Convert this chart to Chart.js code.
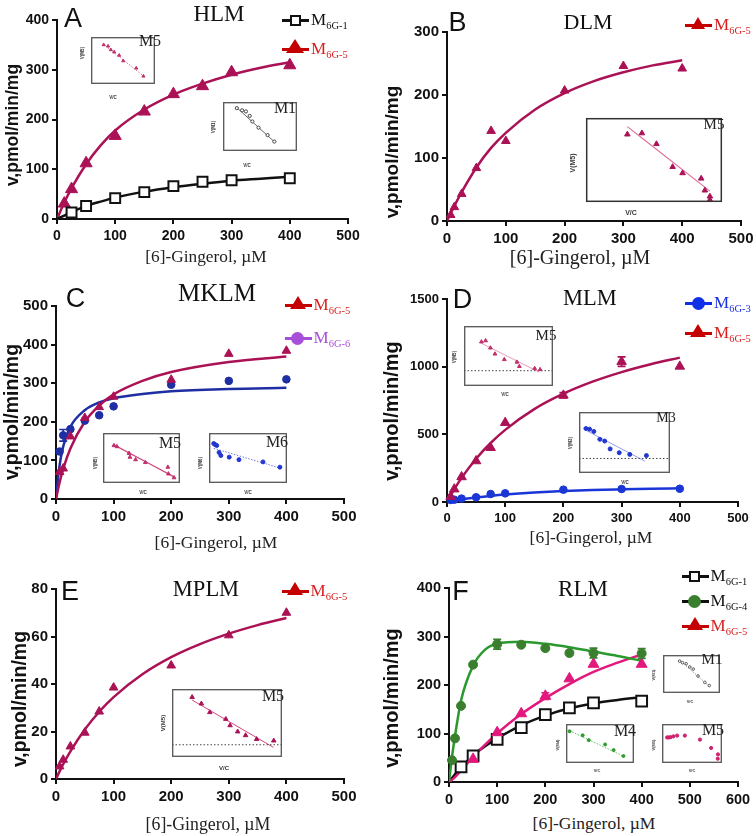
<!DOCTYPE html>
<html>
<head>
<meta charset="utf-8">
<script src="https://cdn.jsdelivr.net/npm/chart.js@4.4.1/dist/chart.umd.min.js"></script>
<style>
  body { margin: 0; width: 756px; height: 836px; position: relative; background: #fff; overflow: hidden; }
  canvas { position: absolute; }
  canvas.inset { background: #fff; }
  .t { position: absolute; transform: translate(-50%, -50%); white-space: nowrap; line-height: 1; }
  .serif { font-family: "Liberation Serif", "Times New Roman", serif; }
  .sans { font-family: "Liberation Sans", Arial, sans-serif; }
  .ytitle { font-weight: bold; transform: translate(-50%, -50%) rotate(-90deg); }
  .leg { position: absolute; transform: translateY(-50%); white-space: nowrap; line-height: 1; font-size: 17px; }
  .leg sub { font-size: 10.5px; vertical-align: -4px; line-height: 1; }
  .mk { position: absolute; box-sizing: border-box; }
</style>
</head>
<body>
<script>
// ---- A: HLM ----
const hlmM1X = [25, 50, 100, 150, 200, 250, 300, 400];
const hlmM1Y = [13, 26, 42, 54, 66, 75, 78, 82];
const hlmM5X = [12.5, 25, 50, 100, 150, 200, 250, 300, 400];
const hlmM5Y = [31, 60, 112, 167, 216, 251, 267, 295, 309];
const hlmFitX = [0, 12.5, 25, 50, 75, 100, 150, 200, 250, 300, 350, 400];
const hlmM1Fit = [0, 7, 14, 26, 35, 43, 55, 64, 71, 77, 81, 85];
const hlmM5Fit = [0, 33, 62, 110, 148, 178, 220, 250, 272, 290, 304, 315];

// ---- B: DLM ----
const dlmX = [6.25, 12.5, 25, 50, 75, 100, 200, 300, 400];
const dlmY = [9.5, 22, 43, 84, 143, 127, 207, 246, 242];
const dlmFitX = [0, 6.25, 12.5, 25, 50, 75, 100, 150, 200, 250, 300, 350, 400];
const dlmFit = [0, 12, 24, 46, 85, 116, 140, 177, 203, 222, 236, 247, 255];

// ---- C: MKLM ----
const mklmX = [6.25, 12.5, 25, 50, 75, 100, 200, 300, 400];
const mklmM5Y = [70, 79, 162, 210, 238, 265, 309, 376, 384];
const mklmM6Y = [123, 165, 181, 203, 217, 240, 296, 306, 310];
const mklmM6Err = [0, 15, 0, 0, 0, 0, 0, 0, 0];
const mklmFitX = [0, 5, 12.5, 25, 50, 75, 100, 150, 200, 300, 400];
const mklmM5Fit = [0, 35, 78, 131, 200, 242, 271, 306, 329, 355, 369];
const mklmM6Fit = [0, 75, 136, 187, 230, 250, 261, 272, 279, 285, 288];

// ---- D: MLM ----
const mlmX = [6.25, 12.5, 25, 50, 75, 100, 200, 300, 400];
const mlmM5Y = [40, 95, 185, 303, 401, 586, 788, 1037, 1002];
const mlmM5Err = [0, 0, 0, 0, 0, 0, 20, 35, 0];
const mlmM3Y = [15, 17, 25, 35, 59, 64, 91, 96, 98];
const mlmFitX = [0, 6.25, 12.5, 25, 50, 75, 100, 150, 200, 250, 300, 350, 400];
const mlmM5Fit = [0, 49, 94, 178, 320, 436, 533, 686, 800, 889, 960, 1018, 1067];
const mlmM3Fit = [0, 5, 10, 19, 33, 45, 55, 70, 81, 89, 94, 98, 101];

// ---- E: MPLM ----
const mplmX = [6.25, 12.5, 25, 50, 75, 100, 200, 300, 400];
const mplmY = [5.3, 8.1, 13.7, 19.5, 28.4, 38.5, 47.8, 60.5, 70];
const mplmFitX = [0, 6.25, 12.5, 25, 50, 75, 100, 150, 200, 250, 300, 350, 400];
const mplmFit = [0, 3.2, 6.2, 11.6, 20.8, 28.3, 34.5, 44.1, 51.3, 56.8, 61.2, 64.8, 67.8];

// ---- F: RLM ----
const rlmM1X = [25, 50, 100, 150, 200, 250, 300, 400];
const rlmM1Y = [31, 54, 88, 112, 139, 153, 163, 167];
const rlmM4X = [6.25, 12.5, 25, 50, 100, 150, 200, 250, 300, 400];
const rlmM4Y = [45, 90, 157, 242, 284, 283, 276, 266, 266, 265];
const rlmM4Err = [0, 0, 0, 0, 10, 0, 0, 0, 10, 10];
const rlmM5X = [50, 100, 150, 200, 250, 300, 400];
const rlmM5Y = [47, 102, 141, 177, 213, 243, 243];
const rlmM5Err = [0, 0, 0, 7, 0, 0, 0];
const rlmFitX = [0, 12.5, 25, 50, 75, 100, 150, 200, 250, 300, 350, 400];
const rlmM1Fit = [0, 16, 30, 55, 74, 90, 117, 137, 152, 162, 169, 175];
const rlmM5Fit = [0, 10, 24, 52, 77, 100, 140, 173, 202, 227, 246, 263];
const rlmM4FitX = [0, 6.25, 12.5, 25, 50, 75, 100, 150, 200, 250, 300, 350, 400];
const rlmM4Fit = [0, 52, 95, 168, 240, 273, 285, 289, 285, 278, 269, 260, 250];

const hlmM5InsX = [19.8, 26.7, 31.0, 36.2, 44.0, 50.4, 70.7, 81.9];
const hlmM5InsY = [83.4, 80.5, 72.8, 68.0, 60.9, 49.1, 33.7, 16.6];
const hlmM5InsLineX = [19, 84];
const hlmM5InsLineY = [85, 15];
const hlmM1InsX = [18.7, 25.8, 31.0, 36.1, 39.7, 48.0, 60.3, 69.4];
const hlmM1InsY = [87.5, 83.0, 80.7, 71.6, 60.2, 47.7, 32.4, 19.3];
const hlmM1InsLineX = [17.5, 70];
const hlmM1InsLineY = [90, 18];
const dlmInsX = [30.4, 41.1, 51.8, 63.7, 71.0, 84.7, 87.4, 91.1, 91.1];
const dlmInsY = [80.5, 81.9, 69.1, 41.8, 34.4, 28.0, 13.8, 6.7, 2.5];
const dlmInsLineX = [30.4, 91.1];
const dlmInsLineY = [89.7, 12.9];
const mklmM5InsX = [14.2, 18.1, 33.8, 35.0, 42.3, 55.0, 84.2, 85.0, 92.3];
const mklmM5InsY = [75, 72.8, 59.4, 51.7, 46.7, 41.1, 31.7, 18.3, 10.6];
const mklmM5InsLineX = [13.5, 92.3];
const mklmM5InsLineY = [76.7, 12.2];
const mklmM6InsX = [6.1, 8.0, 9.9, 12.9, 15.2, 25.9, 38.4, 69.2, 90.9];
const mklmM6InsY = [78.9, 76.7, 75, 61.1, 55, 51.7, 46.7, 42.2, 31.7];
const mklmM6InsLineX = [6.1, 90.9];
const mklmM6InsLineY = [69.4, 30];
const mlmM5InsX = [19.6, 24.3, 29.7, 34.8, 45.3, 59.5, 62.2, 79.4, 85.5];
const mlmM5InsY = [73.6, 75.5, 63.5, 53.4, 44.2, 39.9, 32.7, 29.3, 27.4];
const mlmM5InsLineX = [19.6, 84.5];
const mlmM5InsLineY = [71.2, 23.1];
const mlmM5InsBase = 25.5;
const mlmM3InsX = [7.6, 11.6, 16.3, 22.9, 28.2, 34.2, 44.2, 55.8, 74.1];
const mlmM3InsY = [72.9, 71.9, 68.1, 55.2, 52.4, 39.5, 33.3, 30.5, 28.6];
const mlmM3InsLineX = [7, 72.4];
const mlmM3InsLineY = [70.5, 19.5];
const mlmM3InsBase = 23.8;
const mplmInsX = [18.3, 26.7, 34.4, 48.9, 52.8, 59.7, 66.9, 76.9, 92.5];
const mplmInsY = [88, 78.5, 65.7, 55.8, 46.4, 37.3, 31.8, 26.2, 24];
const mplmInsLineX = [18.3, 92.2];
const mplmInsLineY = [83.7, 14.2];
const mplmInsBase = 18;
const rlmM1InsX = [29.2, 34.2, 40.6, 47.0, 53.0, 61.4, 73.3, 81.2];
const rlmM1InsY = [83.9, 79.7, 76.9, 68.5, 62.9, 44.8, 28.0, 19.6];
const rlmM1InsLineX = [28.2, 82.7];
const rlmM1InsLineY = [87.4, 16.1];
const rlmM4InsX = [5.2, 24.5, 33.5, 57.5, 70.0, 84.5];
const rlmM4InsY = [81.4, 71.0, 58.6, 47.6, 33.1, 17.9];
const rlmM4InsLineX = [5.2, 84.5];
const rlmM4InsLineY = [82.8, 17.2];
const rlmM5InsX = [8.6, 11.4, 14.3, 19.0, 25.2, 38.1, 63.3, 81.9, 93.3, 92.9];
const rlmM5InsY = [65.5, 65.5, 66.2, 68.3, 70.3, 70.3, 60, 38.6, 22.1, 11];

const CRIMSON = "#ab1256";
const RED = "#c40000";
const RED_TEXT = "#d81e1e";
const BLUE_C = "#1f2fa3";
const BLUE_D = "#1b36d6";
const PURPLE = "#a84fd9";
const GREEN = "#2b9a2e";
const GREEN_PT = "#3a7f2e";
const PINK_F = "#e3187d";
const SANS = "'Liberation Sans', Arial, sans-serif";

function pts(xs, ys) {
    return xs.map((x, i) => ({ x: x, y: ys[i] }));
}

function points(xs, ys, o) {
    return {
        data: pts(xs, ys),
        showLine: false,
        pointStyle: o.style,
        pointRadius: o.r,
        pointBackgroundColor: o.fill || o.color,
        pointBorderColor: o.color,
        pointBorderWidth: o.bw || 1,
        borderColor: o.color,
        errorBars: o.err,
        order: 0,
        clip: false,
    };
}

function curve(xs, ys, color, width, dash) {
    return {
        data: pts(xs, ys),
        showLine: true,
        pointRadius: 0,
        borderColor: color,
        borderWidth: width || 2.5,
        borderDash: dash || [],
        cubicInterpolationMode: "monotone",
        fill: false,
        order: 1,
    };
}

// vertical error bars, placed through the y scale
const errorBarPlugin = {
    id: "errorBars",
    afterDatasetsDraw(chart) {
        const ctx = chart.ctx;
        const yScale = chart.scales.y;
        chart.data.datasets.forEach((ds, di) => {
            if (!ds.errorBars) return;
            const meta = chart.getDatasetMeta(di);
            ctx.save();
            ctx.strokeStyle = ds.borderColor;
            ctx.lineWidth = 1.6;
            meta.data.forEach((pt, i) => {
                const e = ds.errorBars[i];
                if (!e) return;
                const v = ds.data[i].y;
                const top = yScale.getPixelForValue(v + e);
                const bot = yScale.getPixelForValue(v - e);
                ctx.beginPath();
                ctx.moveTo(pt.x, top); ctx.lineTo(pt.x, bot);
                ctx.moveTo(pt.x - 4, top); ctx.lineTo(pt.x + 4, top);
                ctx.moveTo(pt.x - 4, bot); ctx.lineTo(pt.x + 4, bot);
                ctx.stroke();
            });
            ctx.restore();
        });
    },
};

const boxPlugin = {
    id: "insetBox",
    afterDraw(chart, args, opts) {
        const a = chart.chartArea;
        const ctx = chart.ctx;
        ctx.save();
        ctx.strokeStyle = opts.color || "#555";
        ctx.lineWidth = opts.width || 1.3;
        ctx.strokeRect(a.left + 0.7, a.top + 0.7, a.right - a.left - 1.4, a.bottom - a.top - 1.4);
        ctx.restore();
    },
};

function mainChart(p) {
    const yw = 46, xh = 30, padT = 12, padR = 20;
    const cv = document.createElement("canvas");
    cv.width = yw + (p.r - p.l) + padR;
    cv.height = padT + (p.b - p.t) + xh;
    cv.style.left = (p.l - yw) + "px";
    cv.style.top = (p.t - padT) + "px";
    document.body.appendChild(cv);

    const axis = (max, step, pad, fit) => ({
        type: "linear",
        min: 0,
        max: max,
        ticks: { stepSize: step, color: "#111", padding: pad, callback: (v) => String(v),
            font: { family: SANS, weight: "bold", size: p.tick } },
        grid: { display: true, drawOnChartArea: false, drawTicks: true, tickLength: 5, color: "#111", lineWidth: 2 },
        border: { display: true, color: "#111", width: 2 },
        afterFit: fit,
    });

    new Chart(cv, {
        type: "scatter",
        data: { datasets: p.sets },
        options: {
            responsive: false,
            animation: false,
            events: [],
            layout: { padding: { top: padT, right: padR, left: 0, bottom: 0 } },
            plugins: { legend: { display: false }, tooltip: { enabled: false } },
            scales: {
                x: axis(p.xMax, p.xStep, 4, (s) => { s.height = xh; }),
                y: axis(p.yMax, p.yStep, 3, (s) => { s.width = yw; }),
            },
        },
        plugins: [errorBarPlugin],
    });
}

function insetChart(p) {
    const cv = document.createElement("canvas");
    cv.className = "inset";
    cv.width = p.w;
    cv.height = p.h;
    cv.style.left = p.l + "px";
    cv.style.top = p.t + "px";
    document.body.appendChild(cv);
    new Chart(cv, {
        type: "scatter",
        data: { datasets: p.sets },
        options: {
            responsive: false,
            animation: false,
            events: [],
            layout: { padding: 0 },
            plugins: { legend: { display: false }, tooltip: { enabled: false }, insetBox: { color: p.box || "#555", width: p.boxW || 1.3 } },
            scales: {
                x: { display: false, min: 0, max: 100 },
                y: { display: false, min: 0, max: 100 },
            },
        },
        plugins: [boxPlugin],
    });
}

function text(str, x, y, cls, css) {
    const d = document.createElement("div");
    d.className = "t " + cls;
    d.innerHTML = str;
    d.style.left = x + "px";
    d.style.top = y + "px";
    Object.assign(d.style, css || {});
    document.body.appendChild(d);
}

function legendItem(x, y, kind, color, lineColor, label, textColor, size) {
    const line = document.createElement("div");
    line.className = "mk";
    Object.assign(line.style, { left: (x - 13) + "px", top: (y - 1.5) + "px", width: "27px", height: "3px", background: lineColor });
    document.body.appendChild(line);

    const m = document.createElement("div");
    m.className = "mk";
    const s = size;
    if (kind === "square") {
        Object.assign(m.style, { left: (x - s / 2) + "px", top: (y - s / 2) + "px", width: s + "px", height: s + "px", border: "2px solid " + color, background: "#fff" });
    } else if (kind === "circle") {
        Object.assign(m.style, { left: (x - s / 2) + "px", top: (y - s / 2) + "px", width: s + "px", height: s + "px", borderRadius: "50%", background: color });
    } else {
        Object.assign(m.style, { left: (x - s / 2) + "px", top: (y - s * 0.55) + "px", width: "0", height: "0",
            borderLeft: (s / 2) + "px solid transparent", borderRight: (s / 2) + "px solid transparent", borderBottom: (s * 0.82) + "px solid " + color });
    }
    document.body.appendChild(m);

    const t = document.createElement("div");
    t.className = "leg serif";
    t.innerHTML = "M<sub>" + label + "</sub>";
    t.style.left = (x + 16) + "px";
    t.style.top = (y + 1) + "px";
    t.style.color = textColor;
    document.body.appendChild(t);
}

// ---- main panels ----
mainChart({ l: 57, t: 20, r: 348, b: 219, xMax: 500, xStep: 100, yMax: 400, yStep: 100, tick: 14,
    sets: [
        curve(hlmFitX, hlmM1Fit, "#111"),
        curve(hlmFitX, hlmM5Fit, CRIMSON),
        points(hlmM1X, hlmM1Y, { style: "rect", r: 7, fill: "#fff", color: "#111", bw: 2 }),
        points(hlmM5X, hlmM5Y, { style: "triangle", r: 7, color: CRIMSON }),
    ] });

mainChart({ l: 447, t: 32, r: 741, b: 221, xMax: 500, xStep: 100, yMax: 300, yStep: 100, tick: 15,
    sets: [
        curve(dlmFitX, dlmFit, CRIMSON),
        points(dlmX, dlmY, { style: "triangle", r: 5, color: CRIMSON }),
    ] });

mainChart({ l: 56, t: 306, r: 344, b: 499, xMax: 500, xStep: 100, yMax: 500, yStep: 100, tick: 15,
    sets: [
        curve(mklmFitX, mklmM5Fit, CRIMSON),
        curve(mklmFitX, mklmM6Fit, BLUE_C),
        points(mklmX, mklmM5Y, { style: "triangle", r: 5, color: CRIMSON }),
        points(mklmX, mklmM6Y, { style: "circle", r: 3.8, color: BLUE_C, err: mklmM6Err }),
    ] });

mainChart({ l: 447, t: 299, r: 738, b: 502, xMax: 500, xStep: 100, yMax: 1500, yStep: 500, tick: 13,
    sets: [
        curve(mlmFitX, mlmM5Fit, CRIMSON),
        curve(mlmFitX, mlmM3Fit, BLUE_D),
        points(mlmX, mlmM5Y, { style: "triangle", r: 5.5, color: CRIMSON, err: mlmM5Err }),
        points(mlmX, mlmM3Y, { style: "circle", r: 3.8, color: BLUE_D }),
    ] });

mainChart({ l: 56, t: 589, r: 344, b: 779, xMax: 500, xStep: 100, yMax: 80, yStep: 20, tick: 15,
    sets: [
        curve(mplmFitX, mplmFit, CRIMSON),
        points(mplmX, mplmY, { style: "triangle", r: 5, color: CRIMSON }),
    ] });

mainChart({ l: 449, t: 588, r: 738, b: 782, xMax: 600, xStep: 100, yMax: 400, yStep: 100, tick: 14.5,
    sets: [
        curve(rlmM4FitX, rlmM4Fit, GREEN),
        curve(rlmFitX, rlmM5Fit, PINK_F),
        curve(rlmFitX, rlmM1Fit, "#111"),
        points(rlmM4X, rlmM4Y, { style: "circle", r: 4.5, color: GREEN_PT, err: rlmM4Err }),
        points(rlmM5X, rlmM5Y, { style: "triangle", r: 6.3, color: PINK_F, err: rlmM5Err }),
        points(rlmM1X, rlmM1Y, { style: "rect", r: 7.6, fill: "#fff", color: "#111", bw: 2 }),
    ] });

// ---- insets ----
const insPink = "#c2306c";
const insPinkLine = "#dd6f98";
const insBlue = "#2236d0";
const baseDash = [1.5, 2];

insetChart({ l: 86, t: 32, w: 74, h: 57, sets: [
    curve(hlmM5InsLineX, hlmM5InsLineY, insPinkLine, 1, [1.5, 1.5]),
    points(hlmM5InsX, hlmM5InsY, { style: "triangle", r: 1.8, color: insPink }),
] });
insetChart({ l: 218, t: 97, w: 84, h: 59, sets: [
    curve(hlmM1InsLineX, hlmM1InsLineY, "#666", 1),
    points(hlmM1InsX, hlmM1InsY, { style: "circle", r: 1.6, fill: "#fff", color: "#444" }),
] });
insetChart({ l: 581, t: 113, w: 146, h: 94, box: "#333", boxW: 1.5, sets: [
    curve(dlmInsLineX, dlmInsLineY, insPinkLine, 1.1),
    points(dlmInsX, dlmInsY, { style: "triangle", r: 3.2, color: CRIMSON }),
] });
insetChart({ l: 98, t: 428, w: 87, h: 60, sets: [
    curve(mklmM5InsLineX, mklmM5InsLineY, "#d0447a", 1.2),
    points(mklmM5InsX, mklmM5InsY, { style: "triangle", r: 2.2, color: insPink }),
] });
insetChart({ l: 204, t: 428, w: 88, h: 60, sets: [
    curve(mklmM6InsLineX, mklmM6InsLineY, "#6b79e0", 1, [1.5, 1.5]),
    points(mklmM6InsX, mklmM6InsY, { style: "circle", r: 2, color: insBlue }),
] });
insetChart({ l: 459, t: 321, w: 99, h: 70, sets: [
    curve([0, 100], [mlmM5InsBase, mlmM5InsBase], "#444", 1, baseDash),
    curve(mlmM5InsLineX, mlmM5InsLineY, "#e59ab5", 1),
    points(mlmM5InsX, mlmM5InsY, { style: "triangle", r: 2.2, color: insPink }),
] });
insetChart({ l: 574, t: 407, w: 101, h: 71, sets: [
    curve([0, 100], [mlmM3InsBase, mlmM3InsBase], "#444", 1, baseDash),
    curve(mlmM3InsLineX, mlmM3InsLineY, "#8d9cf0", 1),
    points(mlmM3InsX, mlmM3InsY, { style: "circle", r: 2, color: insBlue }),
] });
insetChart({ l: 167, t: 684, w: 120, h: 78, sets: [
    curve([0, 100], [mplmInsBase, mplmInsBase], "#444", 1, baseDash),
    curve(mplmInsLineX, mplmInsLineY, "#d0447a", 1),
    points(mplmInsX, mplmInsY, { style: "triangle", r: 2.6, color: CRIMSON }),
] });
insetChart({ l: 658, t: 650, w: 67, h: 48, sets: [
    curve(rlmM1InsLineX, rlmM1InsLineY, "#777", 0.8, [1.5, 1.5]),
    points(rlmM1InsX, rlmM1InsY, { style: "circle", r: 1.3, fill: "#fff", color: "#555" }),
] });
insetChart({ l: 561, t: 719, w: 78, h: 49, sets: [
    curve(rlmM4InsLineX, rlmM4InsLineY, "#52b852", 0.9, [1.5, 1.5]),
    points(rlmM4InsX, rlmM4InsY, { style: "circle", r: 1.5, color: "#2f9a2f" }),
] });
insetChart({ l: 657, t: 719, w: 70, h: 49, sets: [
    points(rlmM5InsX, rlmM5InsY, { style: "circle", r: 1.6, color: "#d0206e" }),
] });

// ---- inset labels ----
const insetLabels = [
    ["M5", 150, 41, 16], ["M1", 285, 108, 16], ["M5", 714, 124, 15], ["M5", 170, 443, 16],
    ["M6", 277, 442, 16], ["M5", 546, 335, 15], ["M3", 666, 418, 14], ["M5", 273, 696, 16],
    ["M1", 712, 659, 15], ["M4", 625, 731, 16], ["M5", 713, 730, 16],
];
insetLabels.forEach(([s, x, y, f]) => text(s, x, y, "serif", { fontSize: f + "px", color: "#222" }));

const tinyAxis = [
    ["V(M5)", 83, 53, 4.5, true], ["V/C", 113, 98, 4.5, false],
    ["V(M1)", 214, 127, 4.5, true], ["V/C", 247, 166, 4.5, false],
    ["V(M5)", 572, 163, 7, true], ["V/C", 631, 212, 7, false],
    ["V(M5)", 95.5, 463, 4.5, true], ["V/C", 143, 493, 4.5, false],
    ["V(M6)", 201, 463, 4.5, true], ["V/C", 248, 493, 4.5, false],
    ["V(M5)", 455, 357, 4.5, true], ["V/C", 505, 395, 4.5, false],
    ["V(M3)", 571, 443, 4.5, true], ["V/C", 625, 483, 4.5, false],
    ["V(M5)", 162.5, 723, 6, true], ["V/C", 224, 768, 6, false],
    ["V(M1)", 654, 675, 4, true], ["V/C", 690, 702, 4, false],
    ["V(M4)", 558, 745, 4, true], ["V/C", 597, 771, 4, false],
    ["V(M5)", 654, 745, 4, true], ["V/C", 692, 771, 4, false],
];
tinyAxis.forEach(([s, x, y, f, rot]) => text(s, x, y, "sans" + (rot ? " ytitle" : ""),
    { fontSize: f + "px", color: "#333", fontWeight: "bold" }));

// ---- panel letters, titles, axis titles ----
const panelLetters = [["A", 73, 18], ["B", 457.5, 22], ["C", 75.5, 298], ["D", 462.5, 299], ["E", 70, 591], ["F", 460.5, 591]];
panelLetters.forEach(([s, x, y]) => text(s, x, y, "sans", { fontSize: "27px", color: "#111" }));

const panelTitles = [["HLM", 219, 13, 23], ["DLM", 588, 22, 22], ["MKLM", 217, 292, 25],
    ["MLM", 590, 297.5, 22.5], ["MPLM", 206, 589, 22.5], ["RLM", 583, 588, 23]];
panelTitles.forEach(([s, x, y, f]) => text(s, x, y, "serif", { fontSize: f + "px", color: "#111" }));

const xTitles = [[206, 257, 17.3], [580, 257, 20], [216, 543, 17.5], [591, 538, 17.5], [208, 825, 17.8], [594, 824, 17.5]];
xTitles.forEach(([x, y, f]) => text("[6]-Gingerol, &micro;M", x, y, "serif", { fontSize: f + "px", color: "#222" }));

const yTitles = [[12.5, 125, 17.5], [391, 152, 19], [12, 412, 19.5], [391, 411, 20], [20, 699, 19.5], [391, 697.5, 20]];
yTitles.forEach(([x, y, f]) => text("v,pmol/min/mg", x, y, "sans ytitle", { fontSize: f + "px", color: "#111" }));

// ---- legends ----
legendItem(295, 20, "square", "#111", "#111", "6G-1", "#111", 11);
legendItem(295, 49, "triangle", RED, RED, "6G-5", RED_TEXT, 18);
legendItem(698, 25, "triangle", RED, RED, "6G-5", RED_TEXT, 15);
legendItem(297.5, 305, "triangle", RED, RED, "6G-5", RED_TEXT, 16);
legendItem(297.5, 338, "circle", PURPLE, PURPLE, "6G-6", PURPLE, 13);
legendItem(698, 303, "circle", "#1030e8", "#1030e8", "6G-3", "#1a30e0", 13);
legendItem(698, 333, "triangle", RED, RED, "6G-5", RED_TEXT, 16);
legendItem(294.5, 591, "triangle", RED, RED, "6G-5", RED_TEXT, 16);
legendItem(694.5, 576, "square", "#111", "#111", "6G-1", "#111", 11);
legendItem(694.5, 601, "circle", GREEN_PT, "#111", "6G-4", "#111", 13);
legendItem(694.5, 626, "triangle", RED, RED, "6G-5", RED_TEXT, 16);
</script>
</body>
</html>
